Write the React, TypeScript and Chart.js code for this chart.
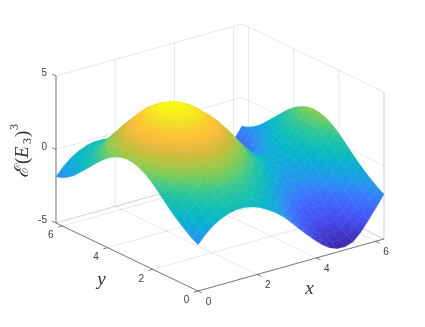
import React, { useEffect, useRef } from "react";
import { Chart, registerables } from "chart.js";

Chart.register(...registerables);

const TWO_PI = 6.2832;
const xGrid = [0, 0.262, 0.524, 0.785, 1.047, 1.309, 1.571, 1.833, 2.094, 2.356, 2.618, 2.88, 3.142, 3.403, 3.665, 3.927, 4.189, 4.451, 4.712, 4.974, 5.236, 5.498, 5.76, 6.021, 6.283];
const yGrid = xGrid;
const surfaceZ = [
  [-1.85, -1.28, -0.83, -0.52, -0.3, -0.2, -0.2, -0.3, -0.5, -0.8, -1.14, -1.56, -2.1, -2.66, -3.2, -3.72, -4.2, -4.56, -4.76, -4.78, -4.6, -4.1, -3.42, -2.7, -1.95],
  [-1.62, -1.04, -0.57, -0.24, 0, 0.11, 0.11, 0.01, -0.19, -0.5, -0.85, -1.28, -1.82, -2.39, -2.94, -3.46, -3.94, -4.31, -4.51, -4.53, -4.35, -3.86, -3.18, -2.47, -1.72],
  [-1.32, -0.72, -0.23, 0.12, 0.38, 0.51, 0.51, 0.41, 0.21, -0.11, -0.47, -0.9, -1.45, -2.04, -2.59, -3.12, -3.61, -3.97, -4.18, -4.2, -4.03, -3.54, -2.87, -2.16, -1.42],
  [-1.01, -0.38, 0.13, 0.51, 0.79, 0.93, 0.94, 0.84, 0.63, 0.3, -0.06, -0.51, -1.07, -1.66, -2.23, -2.76, -3.25, -3.62, -3.83, -3.86, -3.69, -3.21, -2.54, -1.84, -1.11],
  [-0.66, 0, 0.54, 0.94, 1.25, 1.4, 1.42, 1.32, 1.1, 0.76, 0.38, -0.07, -0.64, -1.25, -1.82, -2.36, -2.86, -3.23, -3.44, -3.47, -3.31, -2.84, -2.18, -1.48, -0.76],
  [-0.27, 0.41, 0.98, 1.41, 1.75, 1.92, 1.94, 1.84, 1.62, 1.27, 0.88, 0.41, -0.16, -0.79, -1.38, -1.92, -2.42, -2.8, -3.01, -3.05, -2.89, -2.43, -1.78, -1.09, -0.37],
  [0.15, 0.86, 1.46, 1.92, 2.29, 2.48, 2.51, 2.41, 2.18, 1.82, 1.41, 0.94, 0.35, -0.29, -0.89, -1.44, -1.95, -2.33, -2.55, -2.59, -2.43, -1.98, -1.34, -0.66, 0.05],
  [0.57, 1.31, 1.94, 2.43, 2.84, 3.04, 3.08, 2.98, 2.74, 2.37, 1.95, 1.46, 0.87, 0.2, -0.41, -0.96, -1.47, -1.86, -2.08, -2.12, -1.98, -1.53, -0.9, -0.23, 0.47],
  [0.95, 1.73, 2.39, 2.9, 3.34, 3.56, 3.6, 3.5, 3.26, 2.88, 2.44, 1.94, 1.34, 0.66, 0.04, -0.52, -1.04, -1.42, -1.66, -1.7, -1.56, -1.12, -0.5, 0.16, 0.85],
  [1.25, 2.05, 2.73, 3.27, 3.73, 3.96, 4.0, 3.9, 3.66, 3.27, 2.82, 2.32, 1.71, 1.01, 0.38, -0.18, -0.7, -1.09, -1.33, -1.37, -1.24, -0.81, -0.19, 0.47, 1.15],
  [1.48, 2.29, 2.99, 3.55, 4.02, 4.27, 4.31, 4.21, 3.97, 3.57, 3.12, 2.6, 1.99, 1.28, 0.65, 0.08, -0.45, -0.84, -1.07, -1.12, -0.99, -0.57, 0.05, 0.7, 1.38],
  [1.62, 2.44, 3.15, 3.72, 4.2, 4.45, 4.5, 4.4, 4.15, 3.75, 3.3, 2.78, 2.16, 1.45, 0.81, 0.24, -0.29, -0.68, -0.92, -0.97, -0.84, -0.42, 0.19, 0.84, 1.52],
  [1.65, 2.48, 3.19, 3.76, 4.25, 4.5, 4.55, 4.45, 4.2, 3.8, 3.34, 2.82, 2.2, 1.49, 0.85, 0.28, -0.25, -0.64, -0.88, -0.93, -0.8, -0.38, 0.23, 0.88, 1.55],
  [1.58, 2.4, 3.11, 3.67, 4.16, 4.41, 4.46, 4.36, 4.11, 3.71, 3.25, 2.73, 2.11, 1.41, 0.77, 0.2, -0.33, -0.72, -0.96, -1.01, -0.88, -0.45, 0.16, 0.81, 1.48],
  [1.41, 2.22, 2.91, 3.46, 3.93, 4.17, 4.22, 4.12, 3.87, 3.48, 3.03, 2.51, 1.9, 1.2, 0.57, 0, -0.53, -0.91, -1.15, -1.2, -1.07, -0.64, -0.03, 0.63, 1.31],
  [1.18, 1.97, 2.65, 3.18, 3.64, 3.87, 3.91, 3.81, 3.57, 3.18, 2.74, 2.23, 1.62, 0.93, 0.3, -0.26, -0.78, -1.17, -1.4, -1.45, -1.31, -0.88, -0.26, 0.4, 1.08],
  [0.85, 1.62, 2.27, 2.78, 3.2, 3.42, 3.46, 3.36, 3.12, 2.74, 2.31, 1.81, 1.21, 0.54, -0.08, -0.64, -1.16, -1.54, -1.77, -1.82, -1.67, -1.24, -0.61, 0.06, 0.75],
  [0.46, 1.2, 1.82, 2.3, 2.7, 2.9, 2.94, 2.84, 2.6, 2.24, 1.82, 1.33, 0.74, 0.08, -0.53, -1.08, -1.59, -1.97, -2.2, -2.24, -2.09, -1.64, -1.01, -0.34, 0.36],
  [0.04, 0.75, 1.34, 1.79, 2.16, 2.34, 2.37, 2.27, 2.04, 1.68, 1.28, 0.81, 0.22, -0.42, -1.01, -1.56, -2.07, -2.44, -2.66, -2.7, -2.55, -2.09, -1.45, -0.77, -0.06],
  [-0.38, 0.3, 0.86, 1.28, 1.61, 1.77, 1.8, 1.7, 1.47, 1.13, 0.74, 0.28, -0.29, -0.92, -1.5, -2.04, -2.54, -2.91, -3.13, -3.16, -3.0, -2.54, -1.89, -1.2, -0.48],
  [-0.8, -0.15, 0.38, 0.76, 1.07, 1.21, 1.23, 1.13, 0.91, 0.58, 0.2, -0.25, -0.81, -1.41, -1.98, -2.52, -3.01, -3.38, -3.6, -3.62, -3.46, -2.98, -2.32, -1.63, -0.9],
  [-1.2, -0.58, -0.09, 0.27, 0.54, 0.67, 0.68, 0.58, 0.37, 0.05, -0.31, -0.75, -1.3, -1.89, -2.45, -2.98, -3.47, -3.83, -4.04, -4.07, -3.9, -3.41, -2.74, -2.04, -1.3],
  [-1.5, -0.9, -0.43, -0.09, 0.16, 0.27, 0.28, 0.18, -0.03, -0.34, -0.69, -1.12, -1.67, -2.24, -2.79, -3.32, -3.8, -4.17, -4.37, -4.39, -4.22, -3.73, -3.05, -2.34, -1.6],
  [-1.73, -1.15, -0.69, -0.37, -0.14, -0.04, -0.03, -0.13, -0.34, -0.64, -0.98, -1.41, -1.95, -2.51, -3.06, -3.58, -4.06, -4.42, -4.62, -4.65, -4.47, -3.97, -3.29, -2.57, -1.83],
  [-1.85, -1.28, -0.83, -0.52, -0.3, -0.2, -0.2, -0.3, -0.5, -0.8, -1.14, -1.56, -2.1, -2.66, -3.2, -3.72, -4.2, -4.56, -4.76, -4.78, -4.6, -4.1, -3.42, -2.7, -1.95],
];
const xTicks = [0, 2, 4, 6];
const yTicks = [0, 2, 4, 6];
const zTicks = [-5, 0, 5];
const zMin = -4.8;
const zMax = 4.55;

const parula: [number, number, number, number][] = [
  [0, 62, 38, 168], [0.13, 68, 78, 240], [0.235, 62, 110, 255], [0.32, 40, 145, 240], [0.38, 20, 165, 225],
  [0.45, 8, 182, 200], [0.52, 22, 192, 175], [0.58, 50, 198, 150], [0.62, 85, 203, 120], [0.66, 125, 205, 90],
  [0.71, 165, 200, 70], [0.75, 195, 190, 60], [0.79, 225, 185, 60], [0.84, 250, 190, 60], [0.89, 254, 200, 50],
  [0.93, 245, 220, 40], [1, 249, 251, 21],
];

function colorAt(v: number) {
  const t = Math.max(0, Math.min(1, v));
  for (let k = 1; k < parula.length; k++) {
    if (t <= parula[k][0]) {
      const a = parula[k - 1], b = parula[k];
      const f = (t - a[0]) / (b[0] - a[0]);
      return `rgb(${Math.round(a[1] + (b[1] - a[1]) * f)},${Math.round(a[2] + (b[2] - a[2]) * f)},${Math.round(a[3] + (b[3] - a[3]) * f)})`;
    }
  }
  return "rgb(249,251,21)";
}

// Orthographic view of the plot box. The hidden scales span the canvas one to one.
function proj(x: number, y: number, z: number) {
  return {
    x: 198 + 29.6 * x - 22.6 * y,
    y: 291 - 8.28 * x - 10.83 * y - (z + 5) * 14.7,
  };
}

function quadPaint(ctx: any, p: { x: number; y: number }[], zs: number[]) {
  const v = zs.map((z) => (z - zMin) / (zMax - zMin));
  const vc = (v[0] + v[1] + v[2] + v[3]) / 4;
  const d1x = (p[1].x - p[0].x + p[2].x - p[3].x) / 2, d1y = (p[1].y - p[0].y + p[2].y - p[3].y) / 2;
  const d2x = (p[3].x - p[0].x + p[2].x - p[1].x) / 2, d2y = (p[3].y - p[0].y + p[2].y - p[1].y) / 2;
  const dv1 = (v[1] - v[0] + v[2] - v[3]) / 2, dv2 = (v[3] - v[0] + v[2] - v[1]) / 2;
  const det = d1x * d2y - d1y * d2x;
  if (Math.abs(det) < 3) return colorAt(vc);
  const gx = (dv1 * d2y - dv2 * d1y) / det, gy = (d1x * dv2 - d2x * dv1) / det;
  const g2 = gx * gx + gy * gy;
  if (g2 < 1e-9) return colorAt(vc);
  const r = Math.max(...v.map((w) => Math.abs(w - vc))) * 1.15 + 1e-3;
  const cx = (p[0].x + p[1].x + p[2].x + p[3].x) / 4, cy = (p[0].y + p[1].y + p[2].y + p[3].y) / 4;
  const ax = cx - (gx / g2) * r, ay = cy - (gy / g2) * r, bx = cx + (gx / g2) * r, by = cy + (gy / g2) * r;
  if (![ax, ay, bx, by].every(Number.isFinite)) return colorAt(vc);
  const grad = ctx.createLinearGradient(ax, ay, bx, by);
  for (let t = 0; t <= 4; t++) grad.addColorStop(t / 4, colorAt(vc - r + (2 * r * t) / 4));
  return grad;
}

function lineSet(a: { x: number; y: number }, b: { x: number; y: number }, color: string, width: number) {
  return { data: [a, b], showLine: true, borderColor: color, borderWidth: width, pointRadius: 0, fill: false, tension: 0 };
}

const GRID = "rgba(38,38,38,0.11)";
const AXIS = "rgba(38,38,38,0.72)";

function buildDatasets() {
  const sets: any[] = [];
  // index 0 is painted last: nearest cells first
  for (let i = 0; i < xGrid.length - 1; i++) {
    for (let j = 0; j < yGrid.length - 1; j++) {
      const zs = [surfaceZ[j][i], surfaceZ[j][i + 1], surfaceZ[j + 1][i + 1], surfaceZ[j + 1][i]];
      const pts = [
        proj(xGrid[i], yGrid[j], zs[0]),
        proj(xGrid[i + 1], yGrid[j], zs[1]),
        proj(xGrid[i + 1], yGrid[j + 1], zs[2]),
        proj(xGrid[i], yGrid[j + 1], zs[3]),
      ];
      const paint = (c: any) => quadPaint(c.chart.ctx, pts, zs);
      sets.push({
        data: [...pts, pts[0]],
        showLine: true,
        fill: "shape",
        backgroundColor: paint,
        borderColor: paint,
        borderWidth: 0.5,
        pointRadius: 0,
        tension: 0,
      });
    }
  }
  // front axes and ticks
  const L = 4.5;
  sets.push(lineSet(proj(0, 0, -5), proj(TWO_PI, 0, -5), AXIS, 0.8));
  sets.push(lineSet(proj(0, 0, -5), proj(0, TWO_PI, -5), AXIS, 0.8));
  sets.push(lineSet(proj(0, TWO_PI, -5), proj(0, TWO_PI, 5), AXIS, 0.8));
  const uy = { x: -22.6 / 25.06, y: -10.83 / 25.06 };
  const ux = { x: 29.6 / 30.74, y: -8.28 / 30.74 };
  for (const t of xTicks) {
    const a = proj(t, 0, -5);
    sets.push(lineSet(a, { x: a.x - uy.x * L, y: a.y - uy.y * L }, AXIS, 0.8));
  }
  for (const t of yTicks) {
    const a = proj(0, t, -5);
    sets.push(lineSet(a, { x: a.x - ux.x * L, y: a.y - ux.y * L }, AXIS, 0.8));
  }
  for (const t of zTicks) {
    const a = proj(0, TWO_PI, t);
    sets.push(lineSet(a, { x: a.x + uy.x * L, y: a.y + uy.y * L }, AXIS, 0.8));
  }
  // back walls and floor
  for (const t of xTicks) {
    sets.push(lineSet(proj(t, 0, -5), proj(t, TWO_PI, -5), GRID, 1));
    sets.push(lineSet(proj(t, TWO_PI, -5), proj(t, TWO_PI, 5), GRID, 1));
  }
  for (const t of yTicks) {
    sets.push(lineSet(proj(0, t, -5), proj(TWO_PI, t, -5), GRID, 1));
    sets.push(lineSet(proj(TWO_PI, t, -5), proj(TWO_PI, t, 5), GRID, 1));
  }
  for (const t of zTicks) {
    sets.push(lineSet(proj(0, TWO_PI, t), proj(TWO_PI, TWO_PI, t), GRID, 1));
    sets.push(lineSet(proj(TWO_PI, TWO_PI, t), proj(TWO_PI, 0, t), GRID, 1));
  }
  sets.push(lineSet(proj(TWO_PI, 0, -5), proj(TWO_PI, 0, 5), GRID, 1));
  sets.push(lineSet(proj(0, TWO_PI, -5), proj(TWO_PI, TWO_PI, -5), GRID, 1));
  sets.push(lineSet(proj(TWO_PI, TWO_PI, -5), proj(TWO_PI, 0, -5), GRID, 1));
  return sets;
}

const labelsPlugin = {
  id: "labels3d",
  afterDraw(chart: any) {
    const ctx = chart.ctx;
    const sx = chart.scales.x, sy = chart.scales.y;
    ctx.save();
    ctx.fillStyle = "#404040";
    ctx.font = '10px "Liberation Sans"';
    ctx.textAlign = "center";
    ctx.textBaseline = "middle";
    xTicks.forEach((t) => {
      const p = proj(t, 0, -5);
      ctx.fillText(String(t), sx.getPixelForValue(p.x + 10.5), sy.getPixelForValue(p.y + 11));
    });
    yTicks.forEach((t) => {
      const p = proj(0, t, -5);
      ctx.fillText(String(t), sx.getPixelForValue(p.x - 11.5), sy.getPixelForValue(p.y + 9.5));
    });
    ctx.textAlign = "right";
    zTicks.forEach((t) => {
      const p = proj(0, TWO_PI, t);
      ctx.fillText(String(t), sx.getPixelForValue(p.x - 9), sy.getPixelForValue(p.y - 2.5));
    });
    ctx.fillStyle = "#333333";
    ctx.textAlign = "center";
    ctx.font = 'italic 19px "Liberation Serif"';
    ctx.fillText("x", sx.getPixelForValue(309.5), sy.getPixelForValue(288.5));
    ctx.fillText("y", sx.getPixelForValue(101.5), sy.getPixelForValue(279.5));
    // rotated z label
    ctx.translate(28, 178);
    ctx.rotate(-Math.PI / 2);
    ctx.textAlign = "left";
    ctx.textBaseline = "alphabetic";
    const parts: [string, number, number, string][] = [
      ["ℰ", 0, 0, 'italic 19px "DejaVu Serif"'],
      ["(", 14, 0, '19px "Liberation Serif"'],
      ["E", 20, 0, 'italic 19px "Liberation Serif"'],
      ["3", 34, 3, '12px "Liberation Serif"'],
      [")", 41, 0, '19px "Liberation Serif"'],
      ["3", 48, -10, '12px "Liberation Serif"'],
    ];
    for (const [s, dx, dy, f] of parts) {
      ctx.font = f;
      ctx.fillText(s, dx, dy);
    }
    ctx.restore();
  },
};

export default function App() {
  const ref = useRef<HTMLCanvasElement>(null);
  useEffect(() => {
    const chart = new Chart(ref.current as HTMLCanvasElement, {
      type: "scatter",
      data: { datasets: buildDatasets() },
      options: {
        animation: false,
        responsive: false,
        layout: { padding: 0 },
        plugins: { legend: { display: false }, tooltip: { enabled: false } },
        scales: {
          x: { type: "linear", min: 0, max: 425, display: false },
          y: { type: "linear", min: 0, max: 327, reverse: true, display: false },
        },
      },
      plugins: [labelsPlugin],
    } as any);
    return () => chart.destroy();
  }, []);
  return (
    <div style={{ position: "absolute", left: 0, top: 0, width: 425, height: 327, background: "#fff" }}>
      <canvas ref={ref} width={425} height={327} style={{ display: "block" }} />
    </div>
  );
}
